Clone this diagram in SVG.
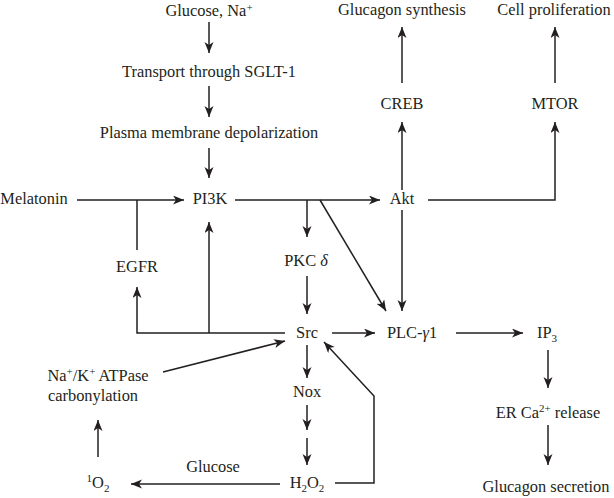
<svg xmlns="http://www.w3.org/2000/svg" width="614" height="498" viewBox="0 0 614 498">
<defs>
<style>
text{font-family:"Liberation Serif","Times New Roman",serif;font-size:16.4px;fill:#231f20;text-anchor:middle}
.s{font-size:11px}
.c line,.c path,.c polyline{stroke:#231f20;stroke-width:1.5;fill:none}
.a{marker-end:url(#ah)}
</style>
<marker id="ah" markerUnits="userSpaceOnUse" markerWidth="12" markerHeight="10" refX="11" refY="4.5" orient="auto">
<path d="M0,0 L11,4.5 L0,9 L3,4.5 z" fill="#231f20"/>
</marker>
</defs>
<rect width="614" height="498" fill="#fff"/>
<g id="glucose"><text x="209" y="16">Glucose, Na<tspan class="s" dy="-5">+</tspan></text></g>
<g id="sglt"><text x="209" y="77">Transport through SGLT-1</text></g>
<g id="plasma"><text x="209" y="138">Plasma membrane depolarization</text></g>
<g id="melatonin"><text x="34" y="204">Melatonin</text></g>
<g id="pi3k"><text x="210" y="204">PI3K</text></g>
<g id="akt"><text x="402" y="204">Akt</text></g>
<g id="creb"><text x="402" y="109">CREB</text></g>
<g id="mtor"><text x="555" y="109">MTOR</text></g>
<g id="glucagon-synthesis"><text x="402" y="15">Glucagon synthesis</text></g>
<g id="cell-proliferation"><text x="554" y="15">Cell proliferation</text></g>
<g id="egfr"><text x="137" y="272">EGFR</text></g>
<g id="pkc"><text x="306" y="266">PKC <tspan font-style="italic">δ</tspan></text></g>
<g id="src"><text x="307" y="338">Src</text></g>
<g id="plc"><text x="412" y="338">PLC-<tspan font-style="italic">γ</tspan>1</text></g>
<g id="ip3"><text x="547" y="338">IP<tspan class="s" dy="4">3</tspan></text></g>
<g id="er"><text x="548" y="418">ER Ca<tspan class="s" dy="-6">2+</tspan><tspan dy="6"> release</tspan></text></g>
<g id="glucagon-secretion"><text x="546" y="492">Glucagon secretion</text></g>
<g id="nox"><text x="307" y="397">Nox</text></g>
<g id="h2o2"><text x="307" y="488">H<tspan class="s" dy="4">2</tspan><tspan dy="-4">O</tspan><tspan class="s" dy="4">2</tspan></text></g>
<g id="o2"><text x="98" y="488"><tspan class="s" dy="-6">1</tspan><tspan dy="6">O</tspan><tspan class="s" dy="4">2</tspan></text></g>
<g id="glucose-label"><text x="213" y="472">Glucose</text></g>
<g id="atpase"><text x="98" y="381">Na<tspan class="s" dy="-6">+</tspan><tspan dy="6">/K</tspan><tspan class="s" dy="-6">+</tspan><tspan dy="6"> ATPase</tspan></text><text x="93" y="401">carbonylation</text></g>
<g id="connectors" class="c">
<line class="a" x1="209" y1="22" x2="209" y2="53"/>
<line class="a" x1="209" y1="86" x2="209" y2="117"/>
<line class="a" x1="209" y1="148" x2="209" y2="178"/>
<line class="a" x1="77" y1="200" x2="184" y2="200"/>
<line x1="137" y1="250" x2="137" y2="200"/>
<polyline class="a" points="285,333 137,333 137,287"/>
<line class="a" x1="209" y1="333" x2="209" y2="222"/>
<line class="a" x1="235" y1="200" x2="380" y2="200"/>
<line class="a" x1="307" y1="200" x2="307" y2="237"/>
<line class="a" x1="320" y1="200" x2="386" y2="311"/>
<line class="a" x1="307" y1="276" x2="307" y2="314"/>
<line class="a" x1="402" y1="210" x2="402" y2="311"/>
<line class="a" x1="402" y1="190" x2="402" y2="122"/>
<line class="a" x1="402" y1="83" x2="402" y2="27"/>
<polyline class="a" points="428,200 555,200 555,122"/>
<line class="a" x1="555" y1="83" x2="555" y2="27"/>
<line class="a" x1="332" y1="333" x2="375" y2="333"/>
<line class="a" x1="456" y1="333" x2="523" y2="333"/>
<line class="a" x1="548" y1="350" x2="548" y2="388"/>
<line class="a" x1="548" y1="425" x2="548" y2="465"/>
<line class="a" x1="307" y1="345" x2="307" y2="378"/>
<line class="a" x1="307" y1="405" x2="307" y2="430"/>
<line class="a" x1="307" y1="438" x2="307" y2="465"/>
<polyline class="a" points="335,483 374,483 374,396 324,342"/>
<line class="a" x1="280" y1="484" x2="131" y2="484"/>
<line class="a" x1="98" y1="457" x2="98" y2="420"/>
<line class="a" x1="163" y1="372" x2="285" y2="341"/>
</g>
</svg>
